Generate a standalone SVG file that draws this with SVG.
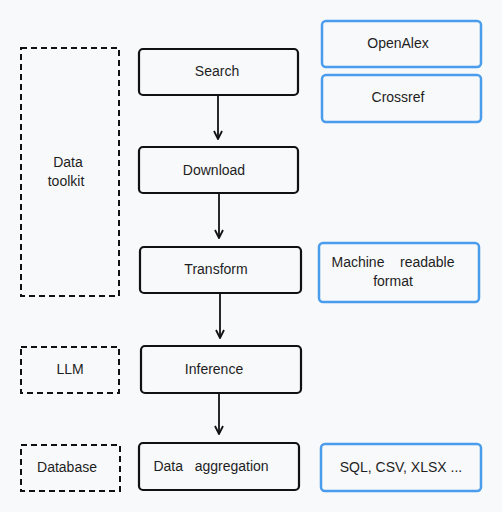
<svg xmlns="http://www.w3.org/2000/svg" width="502" height="512" viewBox="0 0 502 512">
<style>
text{font-family:"Liberation Sans",Arial,sans-serif;font-size:14px;fill:#1e1e1e;text-anchor:middle}
.step{fill:none;stroke:#111;stroke-width:2.2}
.dash{fill:none;stroke:#111;stroke-width:2;stroke-dasharray:6 4}
.blue{fill:none;stroke:#4a9ded;stroke-width:2.5}
.conn{stroke:#111;stroke-width:1.8;fill:none}
</style>
<defs>
<marker id="ah" viewBox="0 0 10 10" refX="9" refY="5" markerWidth="10" markerHeight="10" markerUnits="userSpaceOnUse" orient="auto">
<path d="M1,1 L9,5 L1,9" fill="none" stroke="#111" stroke-width="1.8"/>
</marker>
</defs>
<rect width="502" height="512" fill="#f8f9fb"/>
<g id="data-toolkit"><rect class="dash" x="21" y="48" width="98" height="248"/><text x="68" y="167">Data</text><text x="66" y="186">toolkit</text></g>
<g id="llm"><rect class="dash" x="21" y="347" width="98" height="46"/><text x="70" y="374">LLM</text></g>
<g id="database"><rect class="dash" x="21" y="445" width="99" height="46"/><text x="67" y="472">Database</text></g>
<g id="search"><rect class="step" x="139" y="49" width="159" height="46" rx="4"/><text x="217" y="76">Search</text></g>
<g id="download"><rect class="step" x="139" y="147" width="159" height="46" rx="4"/><text x="214" y="175">Download</text></g>
<g id="transform"><rect class="step" x="140" y="247" width="161" height="46" rx="4"/><text x="216" y="274">Transform</text></g>
<g id="inference"><rect class="step" x="141" y="346" width="160" height="47" rx="4"/><text x="214" y="374">Inference</text></g>
<g id="aggregation"><rect class="step" x="139" y="443" width="160" height="47" rx="4"/><text x="211" y="471" xml:space="preserve">Data   aggregation</text></g>
<g id="openalex"><rect class="blue" x="322" y="21" width="159" height="46" rx="4"/><text x="398" y="48">OpenAlex</text></g>
<g id="crossref"><rect class="blue" x="322" y="75" width="159" height="47" rx="4"/><text x="398" y="102">Crossref</text></g>
<g id="machine-readable"><rect class="blue" x="319" y="243" width="160" height="59" rx="4"/><text x="393" y="267" xml:space="preserve">Machine    readable</text><text x="393" y="286">format</text></g>
<g id="sql"><rect class="blue" x="321" y="444" width="160" height="47" rx="4"/><text x="401" y="472">SQL, CSV, XLSX ...</text></g>
<g id="connectors">
<line class="conn" x1="218" y1="95" x2="218" y2="139" marker-end="url(#ah)"/>
<line class="conn" x1="219" y1="193" x2="219" y2="238" marker-end="url(#ah)"/>
<line class="conn" x1="220" y1="293" x2="220" y2="338" marker-end="url(#ah)"/>
<line class="conn" x1="219" y1="393" x2="219" y2="434" marker-end="url(#ah)"/>
</g>
</svg>
